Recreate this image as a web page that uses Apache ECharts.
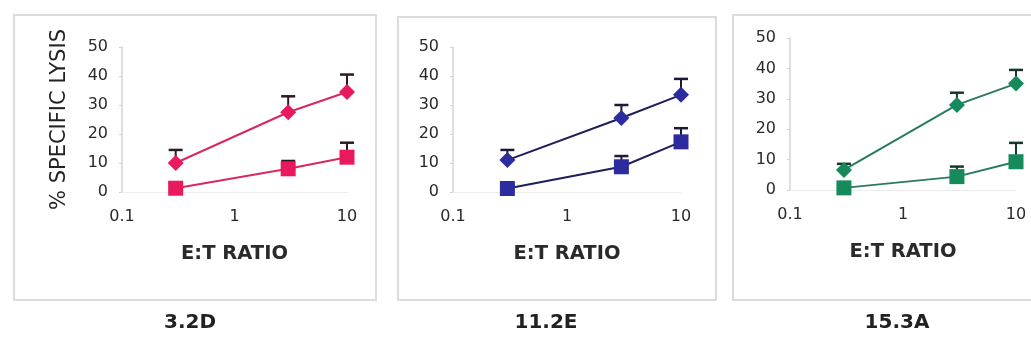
<!DOCTYPE html>
<html>
<head>
<meta charset="utf-8">
<script src="https://cdn.jsdelivr.net/npm/echarts@6/dist/echarts.min.js"></script>
<style>html,body{margin:0;padding:0;background:#fff}#c{width:1031px;height:351px}</style>
</head>
<body>
<div id="c"></div>
<script>
// ---- data ----
var ratios = [0.3, 3, 10];
var panelTitles = ['3.2D', '11.2E', '15.3A'];
var xTickLabels = ['0.1', '1', '10'];
var yTicks = [0, 10, 20, 30, 40, 50];

var p1Upper = [10, 27.5, 34.5];
var p1UpperErr = [4.5, 5.5, 6];
var p1Lower = [1.3, 8, 12];
var p1LowerErr = [1.7, 2.7, 5];

var p2Upper = [11, 25.5, 33.5];
var p2UpperErr = [3.5, 4.5, 5.5];
var p2Lower = [1.2, 8.7, 17.3];
var p2LowerErr = [1, 3.7, 4.7];

var p3Upper = [6.6, 28, 35];
var p3UpperErr = [2, 4, 4.5];
var p3Lower = [0.7, 4.4, 9.3];
var p3LowerErr = [1, 3.3, 6.2];

var panels = [
  {upper: p1Upper, upperErr: p1UpperErr, lower: p1Lower, lowerErr: p1LowerErr,
   marker: '#e8195c', line: '#d62a5e', err: '#2b1a20'},
  {upper: p2Upper, upperErr: p2UpperErr, lower: p2Lower, lowerErr: p2LowerErr,
   marker: '#2c2ca0', line: '#1e1e5a', err: '#1a1a3a'},
  {upper: p3Upper, upperErr: p3UpperErr, lower: p3Lower, lowerErr: p3LowerErr,
   marker: '#178a5c', line: '#2a7a62', err: '#16382a'}
];

// ---- layout ----
var grids = [
  {left: 122, top: 47, width: 225, height: 145},
  {left: 453, top: 47, width: 228, height: 145},
  {left: 790, top: 38, width: 226, height: 152}
];
var frames = [
  {x: 14, y: 15, w: 362, h: 285},
  {x: 398, y: 17, w: 318, h: 283},
  {x: 733, y: 15, w: 310, h: 285}
];
var titleCenters = [190, 546, 897];

var FONT = '"DejaVu Sans", "Liberation Sans", Arial, sans-serif';

function pairs(xs, ys, es) {
  return xs.map(function (x, i) { return es ? [x, ys[i], es[i]] : [x, ys[i]]; });
}

function errRender(color) {
  return function (params, api) {
    var x = api.value(0), y = api.value(1), e = api.value(2);
    var p0 = api.coord([x, y]);
    var p1 = api.coord([x, y + e]);
    var hw = 7;
    return {
      type: 'group',
      children: [
        {type: 'line', shape: {x1: p0[0], y1: p0[1], x2: p1[0], y2: p1[1]},
         style: {stroke: color, lineWidth: 2}},
        {type: 'line', shape: {x1: p1[0] - hw, y1: p1[1], x2: p1[0] + hw, y2: p1[1]},
         style: {stroke: color, lineWidth: 2.5}}
      ]
    };
  };
}

var xAxes = [], yAxes = [], series = [], graphics = [];

panels.forEach(function (p, i) {
  xAxes.push({
    type: 'log', logBase: 10, min: 0.1, max: 10, gridIndex: i,
    name: 'E:T RATIO', nameLocation: 'middle', nameGap: 52,
    nameTextStyle: {fontFamily: FONT, fontSize: 19.5, fontWeight: 'bold', color: '#2a2a2a'},
    axisLine: {show: true, lineStyle: {color: '#ececec', width: 1}},
    axisTick: {show: false},
    splitLine: {show: false},
    minorTick: {show: false},
    axisLabel: {margin: 17, fontFamily: FONT, fontSize: 16, color: '#2a2a2a',
      formatter: function (v) {
        var idx = Math.round(Math.log10(v)) + 1;
        return xTickLabels[idx] !== undefined ? xTickLabels[idx] : '';
      }}
  });
  yAxes.push({
    type: 'value', min: yTicks[0], max: yTicks[yTicks.length - 1], interval: 10, gridIndex: i,
    name: i === 0 ? '% SPECIFIC LYSIS' : '', nameLocation: 'middle', nameGap: 52,
    nameTextStyle: {fontFamily: FONT, fontSize: 21, color: '#222'},
    axisLine: {show: true, lineStyle: {color: '#d4d4d4', width: 1.5}},
    axisTick: {show: true, length: 3, lineStyle: {color: '#d4d4d4'}},
    splitLine: {show: false},
    axisLabel: {margin: 14, fontFamily: FONT, fontSize: 16, color: '#2a2a2a'}
  });
  series.push({
    type: 'line', xAxisIndex: i, yAxisIndex: i, data: pairs(ratios, p.upper),
    symbol: 'diamond', symbolSize: 16, z: 3,
    lineStyle: {color: p.line, width: 2}, itemStyle: {color: p.marker},
    emphasis: {disabled: true}
  });
  series.push({
    type: 'line', xAxisIndex: i, yAxisIndex: i, data: pairs(ratios, p.lower),
    symbol: 'rect', symbolSize: 15, z: 3,
    lineStyle: {color: p.line, width: 2}, itemStyle: {color: p.marker},
    emphasis: {disabled: true}
  });
  series.push({
    type: 'custom', xAxisIndex: i, yAxisIndex: i, data: pairs(ratios, p.upper, p.upperErr),
    renderItem: errRender(p.err), z: 2, silent: true
  });
  series.push({
    type: 'custom', xAxisIndex: i, yAxisIndex: i, data: pairs(ratios, p.lower, p.lowerErr),
    renderItem: errRender(p.err), z: 2, silent: true
  });

  var f = frames[i];
  graphics.push({
    type: 'rect', shape: {x: f.x, y: f.y, width: f.w, height: f.h}, z: -10, silent: true,
    style: {fill: 'none', stroke: '#dcdcdc', lineWidth: 2}
  });
  graphics.push({
    type: 'text', x: titleCenters[i], y: 323, silent: true,
    style: {text: panelTitles[i], fill: '#222', font: 'bold 20px ' + FONT,
      textAlign: 'center', textVerticalAlign: 'middle'}
  });
});

var chart = echarts.init(document.getElementById('c'), null, {renderer: 'canvas'});
chart.setOption({
  animation: false,
  backgroundColor: '#ffffff',
  grid: grids.map(function (g) { return {left: g.left, top: g.top, width: g.width, height: g.height}; }),
  xAxis: xAxes,
  yAxis: yAxes,
  series: series,
  graphic: graphics
});
</script>
</body>
</html>
